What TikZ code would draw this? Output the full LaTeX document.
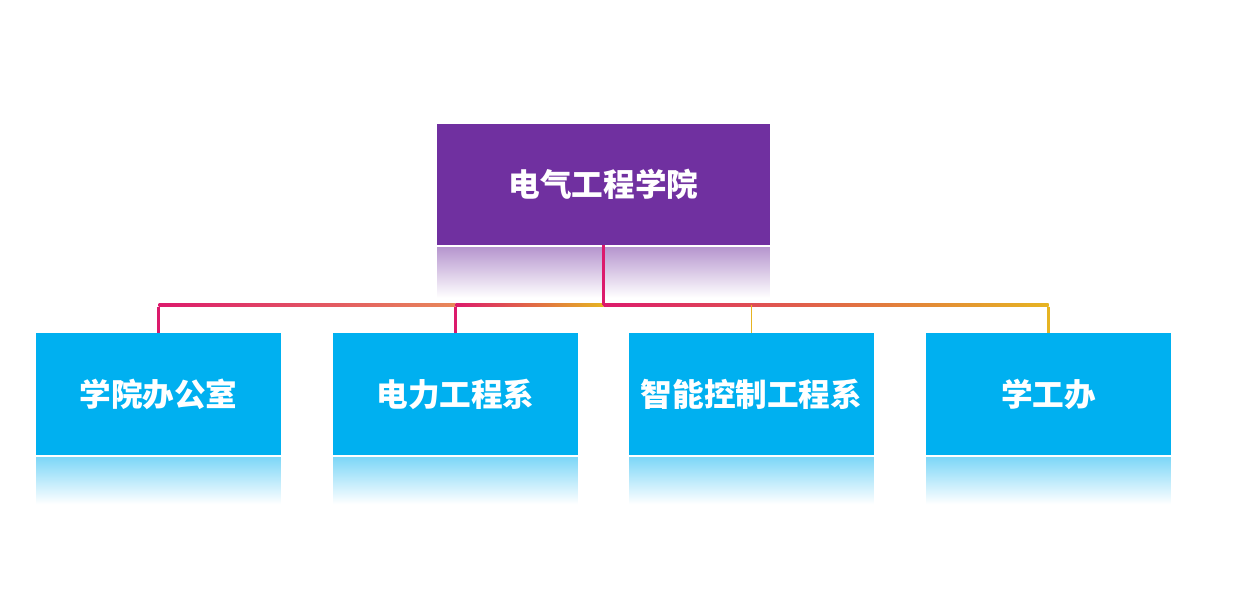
\documentclass[tikz,border=0pt]{standalone}
\usepackage{fontspec}
\newfontfamily\cjk{Noto Sans CJK SC}
\definecolor{headpurple}{HTML}{7030A0}
\definecolor{unitblue}{HTML}{00B0F0}
\definecolor{linemag}{HTML}{DC1A6C}
\definecolor{lineorange}{HTML}{E8885A}
\definecolor{lineyellow}{HTML}{E6B422}
\begin{document}
\begin{tikzpicture}
    [
    x=0.02cm,y=-0.02cm,
    head/.style={rectangle,fill=headpurple,text=white,minimum width=6.66cm,minimum height=2.42cm,inner sep=0pt,outer sep=0pt,font=\cjk\bfseries\fontsize{18}{20}\selectfont},
    unit/.style={rectangle,fill=unitblue,text=white,minimum width=4.9cm,minimum height=2.44cm,inner sep=0pt,outer sep=0pt,font=\cjk\bfseries\fontsize{18}{20}\selectfont},
    wire/.style={line width=1.7pt},
    ]
    \useasboundingbox (0,0) rectangle (1254,599);
    \node (0) at (603.5,184.5) [head] {电气工程学院};
    \node (1) at (158.5,394) [unit] {学院办公室};
    \node (2) at (455.5,394) [unit] {电力工程系};
    \node (3) at (751.5,394) [unit] {智能控制工程系};
    \node (4) at (1048.5,394) [unit] {学工办};
    % reflections
    \shade [top color=headpurple!50,bottom color=white] ([yshift=-1.7pt]0.south west) rectangle ([yshift=-30pt]0.south east);
    \foreach \n in {1,2,3,4}
      \shade [top color=unitblue!50,bottom color=white] ([yshift=-1.7pt]\n.south west) rectangle ([yshift=-28pt]\n.south east);
    % bus points
    \coordinate (b0) at (0.south |- 0,305);
    \coordinate (b1) at (1.north |- 0,305);
    \coordinate (b2) at (2.north |- 0,305);
    \coordinate (b3) at (3.north |- 0,305);
    \coordinate (b4) at (4.north |- 0,305);
    \shade [left color=linemag,right color=lineorange] ([yshift=0.85pt]b1) rectangle ([yshift=-0.85pt]b2);
    \shade [left color=linemag,right color=lineyellow] ([yshift=0.85pt]b2) rectangle ([yshift=-0.85pt]b0);
    \shade [left color=linemag,right color=lineyellow] ([yshift=0.85pt]b0) rectangle ([yshift=-0.85pt]b4);
    \draw [wire,linemag] (0.south) to (b0);
    \draw [wire,linemag] ([yshift=-0.85pt]b1) to (1.north);
    \draw [wire,linemag] ([yshift=-0.85pt]b2) to (2.north);
    \draw [line width=0.8pt,lineyellow] (b3) to (3.north);
    \draw [wire,lineyellow] ([yshift=-0.85pt]b4) to (4.north);
  \end{tikzpicture}
\end{document}
